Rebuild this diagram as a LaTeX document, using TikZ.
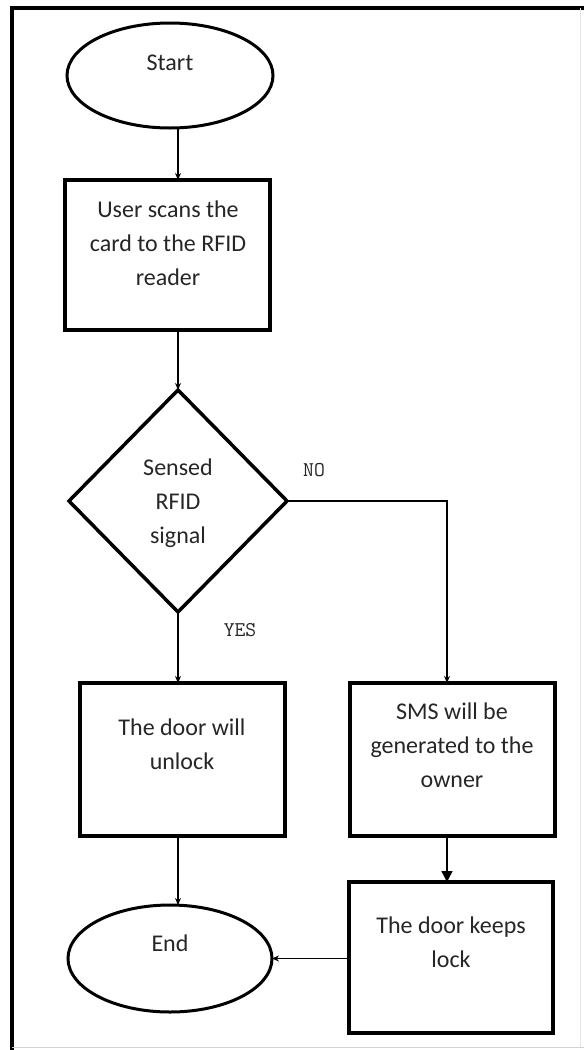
\documentclass[tikz,border=0pt]{standalone}
\usepackage{fontspec}
\setmainfont{Carlito}
\usetikzlibrary{shapes.geometric,arrows.meta}
\definecolor{ink}{gray}{0.15}
\begin{document}
\begin{tikzpicture}[x=1pt,y=-1pt,
  stepbox/.style={draw, line width=3.5pt, rectangle, inner sep=0pt, outer sep=0pt},
  terminal/.style={draw, line width=3pt, ellipse, inner sep=0pt, outer sep=0pt},
  decision/.style={draw, line width=3.5pt, diamond, inner sep=0pt, outer sep=0pt},
  txt/.style={align=center, text=ink, font=\fontsize{24}{34}\selectfont},
  lbl/.style={text=ink, font=\ttfamily\fontsize{21}{24}\selectfont},
  flow/.style={line width=1.4pt, -{Stealth[length=7pt,width=6pt]}},
  flowbold/.style={line width=1.4pt, -{Triangle[length=11pt,width=11pt]}}]
\useasboundingbox (0,0) rectangle (584,1050);
\fill[white] (0,0) rectangle (584,1050);

% page frame
\draw[line width=3.5pt] (12,1050) -- (12,8) -- (584,8);
\draw[gray!35, line width=1pt] (12,1047) -- (584,1047);
\draw[gray!20, line width=1pt] (580,8) -- (580,1047);

% shapes
\node[terminal, minimum width=206pt, minimum height=105pt] (start) at (170,75.5) {};
\node[stepbox, minimum width=205pt, minimum height=150pt] (scan) at (167.5,255) {};
\node[decision, minimum width=218pt, minimum height=222pt] (sense) at (178,501) {};
\node[stepbox, minimum width=205pt, minimum height=153pt] (unlock) at (182.5,759.5) {};
\node[stepbox, minimum width=205pt, minimum height=153pt] (sms) at (452.5,759.5) {};
\node[stepbox, minimum width=204pt, minimum height=151pt] (keep) at (451,957.5) {};
\node[terminal, minimum width=204pt, minimum height=107pt] (end) at (170,958.5) {};

% texts
\node[txt] (tstart) at (170,63) {Start};
\node[txt] (tscan) at (168,243) {User scans the\\card to the RFID\\reader};
\node[txt] (tsense) at (178,503) {Sensed\\RFID\\signal};
\node[txt] (tunlock) at (182,744) {The door will\\unlock};
\node[txt] (tsms) at (452,745) {SMS will be\\generated to the\\owner};
\node[txt] (tkeep) at (451,942) {The door keeps\\lock};
\node[txt] (tend) at (170,943) {End};
\node[lbl] (lno) at (314,470) {NO};
\node[lbl] (lyes) at (240,630) {YES};

% connectors
\draw[flow] (start.south -| sense.north) -- (scan.north -| sense.north);
\draw[flow] (scan.south -| sense.north) -- (sense.north);
\draw[flow] (sense.south) -- (unlock.north -| sense.south);
\draw[flow] (sense.east) -| ([xshift=-5.5pt]sms.north);
\draw[flowbold] ([xshift=-5.5pt]sms.south) -- ([xshift=-5.5pt]sms.south |- keep.north);
\draw[flow] (unlock.south -| sense.south) -- (end.north -| sense.south);
\draw[flow] (keep.west |- end.east) -- (end.east);
\end{tikzpicture}
\end{document}
